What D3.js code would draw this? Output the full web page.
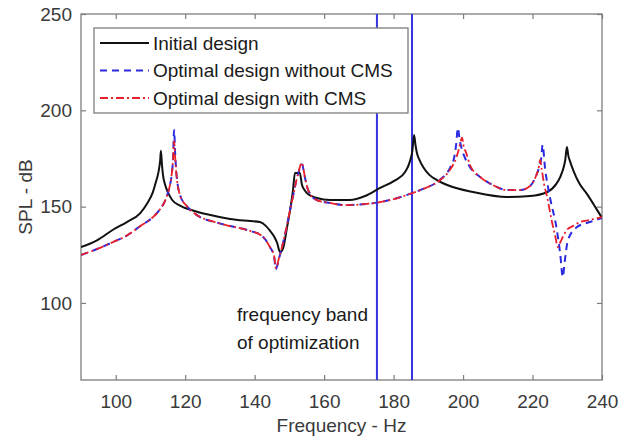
<!DOCTYPE html>
<html>
<head>
<meta charset="utf-8">
<script src="https://cdn.jsdelivr.net/npm/d3@7"></script>
<style>
  html, body { margin: 0; padding: 0; background: #fff; }
  svg { display: block; font-family: "Liberation Sans", Arial, sans-serif; }
</style>
</head>
<body>
<svg id="chart" width="630" height="442"></svg>
<script>
// ---- data ----
const seriesNames = ["Initial design", "Optimal design without CMS", "Optimal design with CMS"];

const freqInitial = [90, 94.6, 99.2, 103.2, 107.0, 109.0, 110.7, 111.6, 112.2, 112.5, 112.8, 113.0, 113.3, 113.6, 114.2, 115.0, 116.2, 118.5, 122.2, 126.3, 132.9, 138.7, 141.5, 143.2, 144.4, 145.6, 146.5, 147.3, 148.2, 149.2, 150.2, 151.0, 151.6, 153.0, 153.6, 154.4, 155.4, 157.9, 161.7, 167.4, 171.8, 176.1, 180.4, 183.3, 184.7, 185.4, 185.9, 186.3, 186.7, 187.5, 188.5, 190.3, 192.5, 196.2, 202.9, 212.7, 219.3, 224.2, 226.8, 228.0, 228.9, 229.4, 229.9, 230.3, 230.8, 231.7, 233.5, 235.7, 238.0, 240];
const splInitial  = [129.0, 132.5, 138.0, 142.0, 146.5, 151.5, 157.5, 163.0, 167.0, 170.0, 174.0, 179.0, 172.0, 166.5, 161.5, 157.5, 153.6, 150.5, 148.0, 146.0, 143.6, 142.5, 142.0, 140.0, 137.5, 134.5, 131.0, 126.4, 128.5, 138.0, 148.3, 158.0, 167.5, 167.5, 161.5, 158.5, 156.4, 154.5, 153.4, 153.4, 155.5, 159.7, 163.6, 168.0, 173.5, 179.0, 187.2, 182.0, 178.0, 174.0, 170.6, 166.5, 163.8, 160.7, 157.6, 155.0, 155.5, 157.6, 161.7, 165.5, 170.0, 174.0, 181.0, 176.5, 173.5, 169.0, 162.0, 156.5, 150.0, 144.1];

const freqNoCMS = [90, 94.6, 99.2, 103.2, 107.0, 110.7, 112.7, 114.2, 115.0, 115.6, 116.1, 116.5, 116.8, 117.1, 117.4, 117.8, 118.5, 120.2, 122.2, 124.3, 128.6, 132.9, 138.7, 142.1, 144.4, 145.6, 146.1, 147.0, 148.7, 150.8, 152.4, 153.6, 154.5, 155.4, 157.9, 161.7, 166.0, 172.3, 178.9, 184.7, 188.5, 193.4, 196.2, 197.5, 198.0, 198.5, 199.0, 199.6, 200.4, 202.0, 204.9, 208.6, 212.7, 216.4, 219.3, 221.0, 222.0, 222.5, 222.9, 223.6, 225.0, 227.0, 228.0, 228.7, 229.3, 230.2, 232.8, 236.5, 240];
const splNoCMS  = [124.9, 128.0, 131.6, 135.0, 139.8, 144.5, 148.5, 153.0, 157.0, 161.0, 166.5, 175.0, 189.8, 178.0, 169.0, 162.0, 156.0, 150.8, 147.2, 144.6, 142.0, 139.9, 137.4, 134.8, 129.0, 124.0, 117.5, 123.0, 135.3, 153.4, 166.4, 172.0, 164.9, 158.6, 153.4, 151.9, 150.8, 151.4, 153.4, 156.6, 159.2, 164.0, 170.0, 176.0, 182.0, 190.8, 185.0, 180.0, 176.0, 170.5, 165.4, 161.2, 158.6, 158.6, 160.7, 166.0, 171.0, 175.0, 182.0, 170.0, 155.0, 137.9, 125.0, 113.5, 122.0, 132.7, 139.4, 142.0, 144.1];

const freqCMS = [90, 94.6, 99.2, 103.2, 107.0, 110.7, 112.7, 114.2, 115.0, 115.6, 116.1, 116.5, 116.8, 117.1, 117.4, 117.8, 118.5, 120.2, 122.2, 124.3, 128.6, 132.9, 138.7, 142.1, 144.4, 145.6, 146.1, 147.0, 148.7, 150.8, 152.4, 153.6, 154.5, 155.4, 157.9, 161.7, 166.0, 172.3, 178.9, 184.7, 188.5, 193.4, 196.2, 198.0, 198.8, 199.3, 199.7, 200.2, 200.8, 202.0, 204.9, 208.6, 212.7, 216.4, 219.3, 221.0, 221.7, 222.2, 222.6, 223.3, 224.2, 225.6, 226.5, 227.3, 228.0, 228.8, 229.9, 231.7, 233.7, 236.5, 240];
const splCMS  = [124.9, 128.0, 131.6, 135.0, 139.8, 144.5, 148.5, 153.0, 157.0, 161.0, 166.5, 174.2, 184.0, 176.0, 168.0, 161.5, 156.0, 150.8, 147.2, 144.6, 142.0, 139.9, 137.4, 134.8, 129.0, 124.4, 118.1, 123.3, 135.3, 153.4, 166.4, 172.7, 164.9, 158.6, 153.4, 151.9, 150.8, 151.4, 153.4, 156.6, 159.2, 163.8, 169.0, 175.2, 180.0, 184.0, 185.8, 181.0, 178.4, 171.6, 165.4, 161.2, 158.6, 158.6, 160.7, 165.9, 169.5, 174.2, 170.0, 162.0, 155.0, 142.0, 135.0, 129.0, 131.5, 134.5, 137.9, 140.0, 142.0, 143.1, 144.6];

const bandEdges = [175.2, 185.3];
const xTicks = [100, 120, 140, 160, 180, 200, 220, 240];
const yTicks = [100, 150, 200, 250];
const annotationLines = ["frequency band", "of optimization"];

// ---- layout ----
const svg = d3.select("#chart");
const margin = { left: 81, right: 28, top: 14, bottom: 62 };
const W = 630, H = 442;
const x = d3.scaleLinear().domain([90, 240]).range([margin.left, W - margin.right]);
const y = d3.scaleLinear().domain([60, 250]).range([H - margin.bottom, margin.top]);

const axisColor = "#7d7d7d";
const labelColor = "#3a3a3a";
const fontSize = 19;

svg.append("clipPath").attr("id", "clip")
  .append("rect")
  .attr("x", x(90)).attr("y", y(250))
  .attr("width", x(240) - x(90)).attr("height", y(60) - y(250));

// box
svg.append("rect")
  .attr("x", x(90)).attr("y", y(250))
  .attr("width", x(240) - x(90)).attr("height", y(60) - y(250))
  .attr("fill", "#fff").attr("stroke", axisColor).attr("stroke-width", 1.3);

function styleAxis(g, withText) {
  g.select(".domain").remove();
  g.selectAll(".tick line").attr("stroke", axisColor).attr("stroke-width", 1.2);
  if (withText) {
    g.selectAll(".tick text").attr("fill", labelColor)
      .style("font-size", fontSize + "px");
  } else {
    g.selectAll(".tick text").remove();
  }
}

svg.append("g").attr("transform", `translate(0,${y(60)})`)
  .call(d3.axisBottom(x).tickValues(xTicks).tickSize(-5).tickPadding(14.5).tickSizeOuter(0))
  .call(g => styleAxis(g, true));
svg.append("g").attr("transform", `translate(0,${y(250)})`)
  .call(d3.axisTop(x).tickValues(xTicks).tickSize(-5).tickSizeOuter(0))
  .call(g => styleAxis(g, false));
svg.append("g").attr("transform", `translate(${x(90)},0)`)
  .call(d3.axisLeft(y).tickValues(yTicks).tickSize(-5).tickPadding(9).tickSizeOuter(0))
  .call(g => styleAxis(g, true));
svg.append("g").attr("transform", `translate(${x(240)},0)`)
  .call(d3.axisRight(y).tickValues(yTicks).tickSize(-5).tickSizeOuter(0))
  .call(g => styleAxis(g, false));

// axis labels
svg.append("text")
  .attr("x", (x(90) + x(240)) / 2).attr("y", 432)
  .attr("text-anchor", "middle").attr("fill", labelColor)
  .style("font-size", fontSize + "px")
  .text("Frequency - Hz");
svg.append("text")
  .attr("transform", `translate(32,${(y(60) + y(250)) / 2}) rotate(-90)`)
  .attr("text-anchor", "middle").attr("fill", labelColor)
  .style("font-size", fontSize + "px")
  .text("SPL - dB");

const plot = svg.append("g").attr("clip-path", "url(#clip)");

// band lines
plot.selectAll("line.band").data(bandEdges).join("line")
  .attr("class", "band")
  .attr("x1", d => x(d)).attr("x2", d => x(d))
  .attr("y1", y(250)).attr("y2", y(60))
  .attr("stroke", "#3535e0").attr("stroke-width", 2);

const line = d3.line().x(d => x(d[0])).y(d => y(d[1])).curve(d3.curveMonotoneX);
const zip = (a, b) => a.map((v, i) => [v, b[i]]);

const styles = [
  { color: "#111111", width: 2, dash: null },
  { color: "#2a2ae0", width: 2, dash: "7,5" },
  { color: "#e8202c", width: 1.8, dash: "8,3,2,3" }
];
const seriesData = [
  zip(freqInitial, splInitial),
  zip(freqNoCMS, splNoCMS),
  zip(freqCMS, splCMS)
];

seriesData.forEach((d, i) => {
  plot.append("path").datum(d)
    .attr("d", line)
    .attr("fill", "none")
    .attr("stroke", styles[i].color)
    .attr("stroke-width", styles[i].width)
    .attr("stroke-linejoin", "round")
    .attr("stroke-dasharray", styles[i].dash);
});

// annotation
svg.selectAll("text.ann").data(annotationLines).join("text")
  .attr("class", "ann")
  .attr("x", 237).attr("y", (d, i) => 321 + i * 28)
  .attr("fill", "#1a1a1a")
  .style("font-size", fontSize + "px")
  .text(d => d);

// legend
const lg = svg.append("g");
lg.append("rect")
  .attr("x", 94).attr("y", 28).attr("width", 314).attr("height", 85)
  .attr("fill", "#fff").attr("stroke", axisColor).attr("stroke-width", 1.3);
seriesNames.forEach((name, i) => {
  const cy = 43 + i * 27.5;
  lg.append("line")
    .attr("x1", 100).attr("x2", 149).attr("y1", cy).attr("y2", cy)
    .attr("stroke", styles[i].color).attr("stroke-width", styles[i].width)
    .attr("stroke-dasharray", styles[i].dash);
  lg.append("text")
    .attr("x", 153).attr("y", cy).attr("dy", "0.35em")
    .attr("fill", "#1a1a1a")
    .style("font-size", fontSize + "px")
    .text(name);
});
</script>
</body>
</html>
